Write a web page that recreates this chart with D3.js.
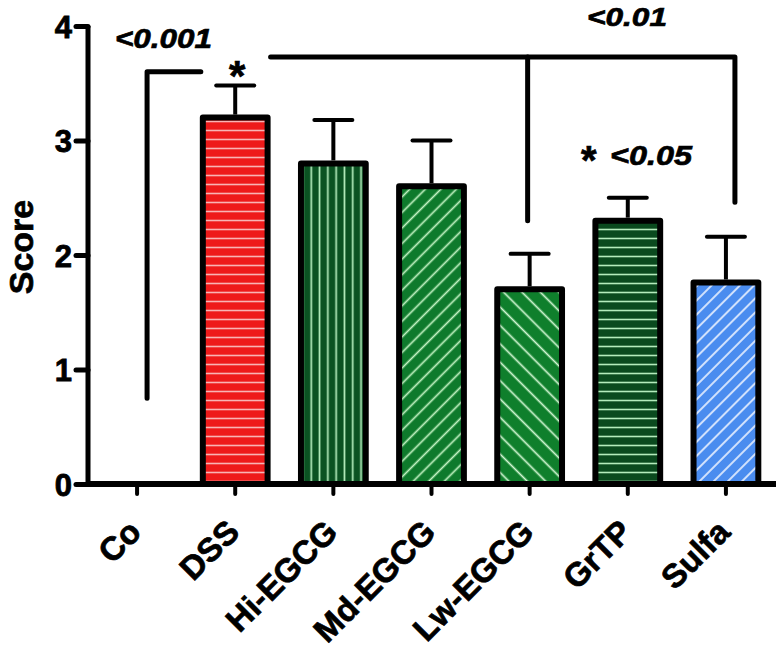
<!DOCTYPE html>
<html><head><meta charset="utf-8">
<script src="https://cdn.jsdelivr.net/npm/d3@7"></script>
<style>
html,body{margin:0;padding:0;background:#fff;}
svg{display:block;}
text{font-family:"Liberation Sans",Arial,sans-serif;font-weight:bold;}
</style></head>
<body>
<svg id="chart" width="784" height="648"></svg>
<script>
const categories = ["Co","DSS","Hi-EGCG","Md-EGCG","Lw-EGCG","GrTP","Sulfa"];
const scores = [0, 3.2, 2.8, 2.6, 1.7, 2.3, 1.76];
const errors = [0, 0.28, 0.38, 0.4, 0.31, 0.2, 0.4];
const yTicks = [0, 1, 2, 3, 4];
const fills = ["none", "#ee1a1a", "#0b5222", "#0e7a2c", "#0f7f2c", "#0a4a1e", "#4a8cef"];
const patternKinds = ["none", "h", "v", "d1", "d2", "h", "d1"];
const lineColors = ["none", "#f8b4b4", "#b4ecbc", "#c4f4c4", "#d4f8d4", "#b4ecbc", "#e8f0ff"];
const patternGaps = [0, 9, 8.3, 11, 13, 9, 10];
// significance annotations (value-space)
const sigCoLevels = [0.75, 3.6];
const sigBigLevel = 3.73;
const sigLwLevel = 2.3;
const sigSulfaLevel = 2.46;
const sigLabels = ["<0.001", "*", "<0.01", "<0.05"];

const svg = d3.select("#chart");
const x = d3.scaleBand().domain(categories).range([88, 775]).paddingInner(0.34).paddingOuter(0.17);
const y = d3.scaleLinear().domain([0, 4]).range([484, 26]);

const defs = svg.append("defs");
categories.forEach((c, i) => {
  if (patternKinds[i] === "none") return;
  const g = patternGaps[i];
  const p = defs.append("pattern").attr("id", "pat" + i)
    .attr("patternUnits", "userSpaceOnUse").attr("width", g).attr("height", g);
  if (patternKinds[i] === "d1") p.attr("patternTransform", "rotate(45)");
  if (patternKinds[i] === "d2") p.attr("patternTransform", "rotate(-45)");
  p.append("rect").attr("width", g).attr("height", g).attr("fill", fills[i]);
  if (patternKinds[i] === "h") {
    p.append("line").attr("x1", 0).attr("x2", g).attr("y1", g / 2).attr("y2", g / 2)
      .attr("stroke", lineColors[i]).attr("stroke-width", 1.6);
  } else {
    p.append("line").attr("y1", 0).attr("y2", g).attr("x1", g / 2).attr("x2", g / 2)
      .attr("stroke", lineColors[i]).attr("stroke-width", 1.7);
  }
});

// bars
const data = categories.map((c, i) => ({c, v: scores[i], e: errors[i], i}));
const bars = data.filter(d => d.v > 0);
svg.append("g").selectAll("rect").data(bars).join("rect")
  .attr("x", d => x(d.c)).attr("width", x.bandwidth())
  .attr("y", d => y(d.v)).attr("height", d => y(0) - y(d.v))
  .attr("fill", d => "url(#pat" + d.i + ")")
  .attr("stroke", "#000").attr("stroke-width", 6).attr("stroke-linejoin", "round");

// error bars
const eb = svg.append("g").attr("stroke", "#000").attr("stroke-width", 4);
eb.selectAll("line.v").data(bars).join("line").attr("class", "v")
  .attr("x1", d => x(d.c) + x.bandwidth() / 2).attr("x2", d => x(d.c) + x.bandwidth() / 2)
  .attr("y1", d => y(d.v) - 3).attr("y2", d => y(d.v + d.e));
eb.selectAll("line.c").data(bars).join("line").attr("class", "c")
  .attr("x1", d => x(d.c) + x.bandwidth() / 2 - 19).attr("x2", d => x(d.c) + x.bandwidth() / 2 + 19)
  .attr("y1", d => y(d.v + d.e)).attr("y2", d => y(d.v + d.e)).attr("stroke-linecap", "round");

// axes
const yAxis = svg.append("g").attr("transform", "translate(88,0)")
  .call(d3.axisLeft(y).tickValues(yTicks).tickFormat(d3.format("d")).tickSize(12).tickPadding(4));
yAxis.select(".domain").attr("stroke-width", 5).attr("d", `M0,${y(4)}V${y(0)}`);
yAxis.selectAll(".tick line").attr("stroke-width", 5).attr("stroke-linecap", "round");
yAxis.selectAll(".tick text").attr("font-size", 31).attr("fill", "#000")
  .attr("stroke", "#000").attr("stroke-width", 0.8)
  .attr("font-family", "Liberation Sans, Arial, sans-serif").attr("font-weight", "bold").attr("dy", "0.36em");

const xAxis = svg.append("g").attr("transform", `translate(0,${y(0)})`)
  .call(d3.axisBottom(x).tickSize(10).tickFormat(""));
xAxis.select(".domain").attr("stroke-width", 6).attr("d", "M86,0H776");
xAxis.selectAll(".tick line").attr("stroke-width", 4).attr("stroke-linecap", "round");
svg.append("g").selectAll("text").data(categories).join("text")
  .attr("transform", d => `translate(${x(d) + x.bandwidth() / 2 + 6},${y(0) + 50}) rotate(-45)`)
  .attr("text-anchor", "end").attr("font-size", 33).attr("fill", "#000")
  .attr("stroke", "#000").attr("stroke-width", 0.7).text(d => d);

// y label
svg.append("text").attr("transform", `translate(33,${y(2) - 8}) rotate(-90)`)
  .attr("text-anchor", "middle").attr("font-size", 34).attr("stroke", "#000").attr("stroke-width", 0.7).text("Score");

// significance brackets
const cx = c => x(c) + x.bandwidth() / 2;
const ann = svg.append("g").attr("fill", "none").attr("stroke", "#000").attr("stroke-width", 5)
  .attr("stroke-linecap", "round").attr("stroke-linejoin", "round");
ann.append("path").attr("d",
  `M${cx("Co") + 10},${y(sigCoLevels[0])}V${y(sigCoLevels[1])}H${x("DSS") - 2}`);
ann.append("path").attr("d",
  `M${x("DSS") + x.bandwidth() + 3},${y(sigBigLevel)}H${cx("Sulfa") + 9}V${y(sigSulfaLevel)}`);
ann.append("path").attr("d",
  `M${cx("Lw-EGCG") - 2},${y(sigBigLevel)}V${y(sigLwLevel)}`);

const lab = svg.append("g").attr("font-size", 28).attr("font-style", "italic").attr("fill", "#000")
  .attr("stroke", "#000").attr("stroke-width", 0.7);
lab.append("text").attr("x", 115).attr("y", 48)
  .attr("textLength", 97).attr("lengthAdjust", "spacingAndGlyphs").text(sigLabels[0]);
lab.append("text").attr("x", cx("DSS") + 2).attr("y", 90).attr("text-anchor", "middle").attr("font-style", "normal").attr("font-size", 42).text(sigLabels[1]);
lab.append("text").attr("x", 587).attr("y", 26).attr("font-size", 26)
  .attr("textLength", 80).attr("lengthAdjust", "spacingAndGlyphs").text(sigLabels[2]);
lab.append("text").attr("x", 581).attr("y", 174).attr("font-style", "normal").attr("font-size", 40).text(sigLabels[1]);
lab.append("text").attr("x", 610).attr("y", 165)
  .attr("textLength", 82).attr("lengthAdjust", "spacingAndGlyphs").text(sigLabels[3]);
</script>
</body></html>
